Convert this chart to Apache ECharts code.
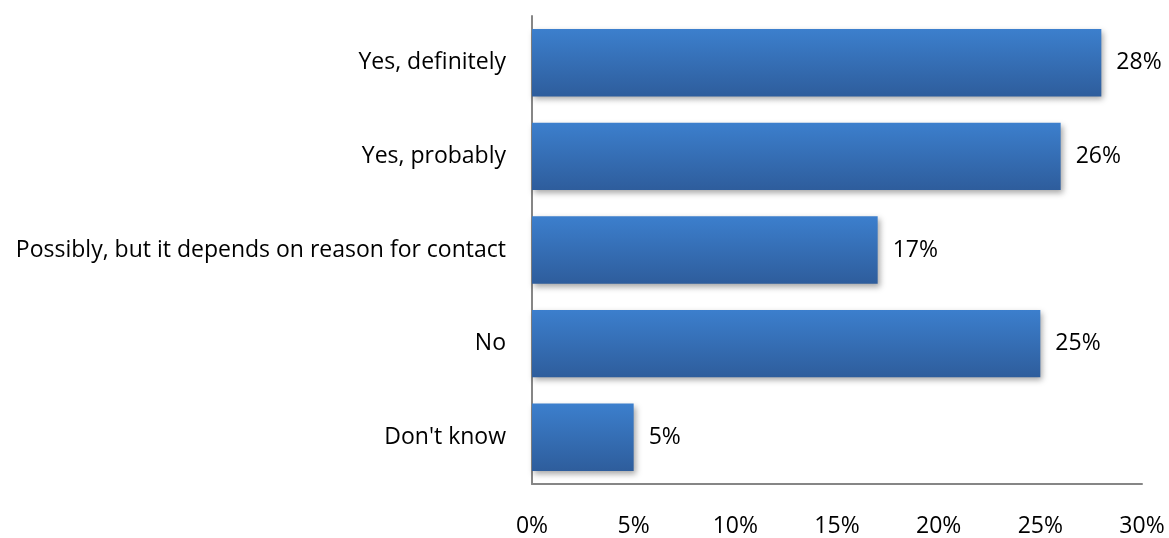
<!DOCTYPE html>
<html>
<head>
<meta charset="utf-8">
<script src="https://cdn.jsdelivr.net/npm/echarts@6/dist/echarts.min.js"></script>
<style>
  html, body { margin: 0; padding: 0; background: #fff; }
  #chart { width: 1169px; height: 538px; }
</style>
</head>
<body>
<div id="chart"></div>
<script>
// Survey answers, top to bottom as shown
const categories = [
  "Yes, definitely",
  "Yes, probably",
  "Possibly, but it depends on reason for contact",
  "No",
  "Don't know"
];
// Share of respondents (%)
const values = [28, 26, 17, 25, 5];
// Value axis ticks (%)
const tickValues = [0, 5, 10, 15, 20, 25, 30];

const FONT = '"Open Sans", sans-serif';
const FONT_SIZE = 23;

const chart = echarts.init(document.getElementById('chart'), null, { renderer: 'canvas' });

chart.setOption({
  animation: false,
  backgroundColor: '#ffffff',
  grid: { left: 532, right: 27, top: 16, bottom: 52, containLabel: false },
  xAxis: {
    type: 'value',
    min: tickValues[0],
    max: tickValues[tickValues.length - 1],
    interval: 5,
    axisLine: { show: true, lineStyle: { color: '#868686', width: 2 } },
    axisTick: { show: false },
    splitLine: { show: false },
    axisLabel: {
      color: '#000', fontFamily: FONT, fontSize: FONT_SIZE, margin: 31,
      formatter: v => v + '%'
    }
  },
  yAxis: {
    type: 'category',
    data: categories,
    inverse: true,
    axisLine: { show: true, lineStyle: { color: '#868686', width: 2 } },
    axisTick: { show: false },
    axisLabel: { color: '#000', fontFamily: FONT, fontSize: FONT_SIZE, margin: 26 }
  },
  series: [{
    type: 'bar',
    data: values,
    barCategoryGap: '28%',
    itemStyle: {
      color: new echarts.graphic.LinearGradient(0, 0, 0, 1, [
        { offset: 0, color: '#3c7fcd' },
        { offset: 1, color: '#2e5d9c' }
      ]),
      shadowColor: 'rgba(0,0,0,0.35)',
      shadowBlur: 6,
      shadowOffsetX: 2,
      shadowOffsetY: 3
    },
    label: {
      show: true,
      position: 'right',
      distance: 15,
      color: '#000',
      fontFamily: FONT,
      fontSize: FONT_SIZE,
      formatter: p => p.value + '%'
    }
  }]
});
</script>
</body>
</html>
